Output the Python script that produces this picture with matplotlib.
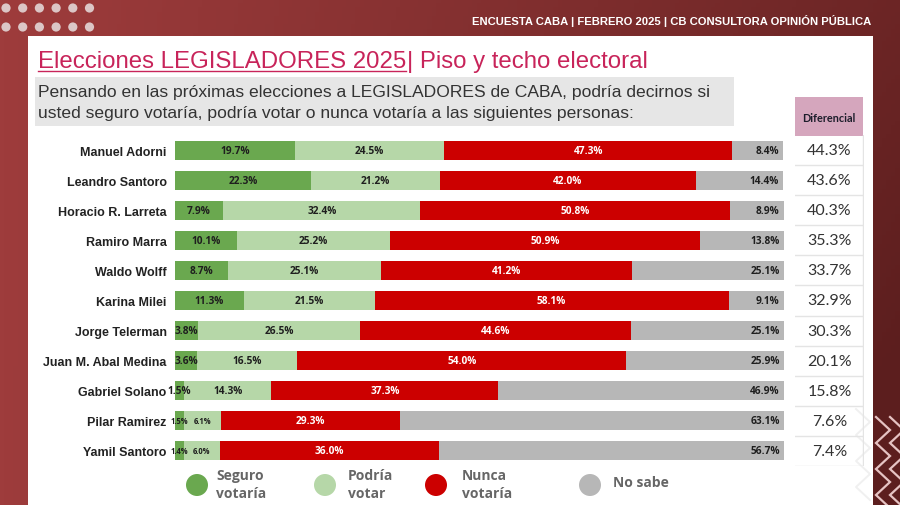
import matplotlib
matplotlib.use("Agg")
import matplotlib.pyplot as plt
import numpy as np
from matplotlib.patches import Rectangle, Circle

# ---------------- data ----------------
names = ["Manuel Adorni", "Leandro Santoro", "Horacio R. Larreta", "Ramiro Marra",
         "Waldo Wolff", "Karina Milei", "Jorge Telerman", "Juan M. Abal Medina",
         "Gabriel Solano", "Pilar Ramirez", "Yamil Santoro"]
seguro = [19.7, 22.3, 7.9, 10.1, 8.7, 11.3, 3.8, 3.6, 1.5, 1.5, 1.4]
podria = [24.5, 21.2, 32.4, 25.2, 25.1, 21.5, 26.5, 16.5, 14.3, 6.1, 6.0]
nunca = [47.3, 42.0, 50.8, 50.9, 41.2, 58.1, 44.6, 54.0, 37.3, 29.3, 36.0]
nosabe = [8.4, 14.4, 8.9, 13.8, 25.1, 9.1, 25.1, 25.9, 46.9, 63.1, 56.7]
diferencial = [44.3, 43.6, 40.3, 35.3, 33.7, 32.9, 30.3, 20.1, 15.8, 7.6, 7.4]
series_labels = ["Seguro\nvotaría", "Podría\nvotar", "Nunca\nvotaría", "No sabe"]
colors = ["#6aa84f", "#b6d7a8", "#cc0000", "#b7b7b7"]

header = "ENCUESTA CABA | FEBRERO 2025 | CB CONSULTORA OPINIÓN PÚBLICA"
title_a = "Elecciones LEGISLADORES 2025"
title_b = "| Piso y techo electoral"
question = ("Pensando en las próximas elecciones a LEGISLADORES de CABA, podría decirnos si\n"
            "usted seguro votaría, podría votar o nunca votaría a las siguientes personas:")

W, H = 900, 506
fig = plt.figure(figsize=(W / 100, H / 100), dpi=100)

# ---------------- background / decorations (pixel coordinates) ----------------
bg = fig.add_axes([0, 0, 1, 1])
bg.set_xlim(0, W)
bg.set_ylim(H, 0)
bg.axis("off")

gx = np.linspace(0, 1, 200)[None, :]
gy = np.linspace(0, 1, 120)[:, None]
t = np.clip(0.75 * gx + 0.35 * gy * gx, 0, 1)
c0 = np.array([158, 60, 60]) / 255
c1 = np.array([92, 30, 30]) / 255
img = c0[None, None, :] * (1 - t[..., None]) + c1[None, None, :] * t[..., None]
bg.imshow(img, extent=[0, W, H, 0], aspect="auto", zorder=0)

# white panel
bg.add_patch(Rectangle((28, 37), 845, 480, facecolor="white", edgecolor="none", zorder=1))

# dots
for row_y in (9, 28):
    for k in range(6):
        bg.add_patch(Circle((6 + 16.7 * k, row_y), 4.6, facecolor="#dcc6c6",
                            edgecolor="none", zorder=2))

# chevrons bottom right
for off in (0, 14):
    xs, ys = [], []
    y0 = 418
    for k in range(8):
        xs.append(876 + off if k % 2 == 0 else 890 + off)
        ys.append(y0 + k * 13)
    bg.plot(xs, ys, color="#e6c3c3", lw=1.6, zorder=2, solid_joinstyle="miter")
xs, ys = [], []
for k in range(8):
    xs.append(856 if k % 2 == 0 else 870)
    ys.append(410 + k * 13)
bg.plot(xs, ys, color="#f0f0f0", lw=1.4, zorder=2)

# header text
bg.text(871, 21, header, color="white", fontsize=8.1, fontweight="bold",
        family="Liberation Sans", ha="right", va="center", zorder=3)

# title with underline
title_color = "#c8245a"
ta = bg.text(38, 68, title_a, color=title_color, fontsize=17.3, family="Liberation Sans",
             ha="left", va="baseline", zorder=3)
fig.canvas.draw()
r = fig.canvas.get_renderer()
bb = ta.get_window_extent(renderer=r)
x_end = bb.x1
bg.plot([38, x_end], [71.5, 71.5], color=title_color, lw=1.0, zorder=3)
bg.text(x_end + 1, 68, title_b, color=title_color, fontsize=17.3, family="Liberation Sans",
        ha="left", va="baseline", zorder=3)

# question box
bg.add_patch(Rectangle((35, 78), 699, 49, facecolor="#e6e6e6", edgecolor="none", zorder=1.5))
bg.text(38, 102.5, question, color="#333333", fontsize=12.6, family="Liberation Sans",
        ha="left", va="center", linespacing=1.5, zorder=3)

# Diferencial header
bg.add_patch(Rectangle((795, 98), 68, 39, facecolor="#d5a6bd", edgecolor="none", zorder=1.5))
bg.text(829, 118, "Diferencial", color="#1d1d2b", fontsize=7.8, fontweight="bold",
        family="Lato", ha="center", va="center", zorder=3)

# ---------------- bar chart ----------------
top_px, bot_px = 136, 467
left_px, right_px = 175, 784
ax = fig.add_axes([left_px / W, 1 - bot_px / H, (right_px - left_px) / W, (bot_px - top_px) / H])
ax.set_zorder(5)
ax.patch.set_alpha(0)
n = len(names)
y = np.arange(n)
ax.set_ylim(n - 0.5, -0.5)
ax.set_xlim(0, 100)
for s in ax.spines.values():
    s.set_visible(False)
ax.set_xticks([])
ax.set_yticks(y)
ax.set_yticklabels(names, fontsize=9, fontweight="bold", family="Liberation Sans", color="#222222")
ax.tick_params(axis="y", length=0, pad=6)

data = [seguro, podria, nunca, nosabe]
lefts = np.zeros(n)
for si, (vals, col) in enumerate(zip(data, colors)):
    vals = np.array(vals)
    ax.barh(y, vals, left=lefts, height=0.63, color=col, edgecolor="none")
    for i in range(n):
        v = vals[i]
        small = (names[i] in ("Pilar Ramirez", "Yamil Santoro")) and si < 2
        fs = 5.5 if small else 7.3
        tc = "white" if si == 2 else "#1e1e1e"
        if si == 3:
            ax.text(lefts[i] + v - 0.7, i, f"{v:.1f}%", ha="right", va="center",
                    fontsize=fs, fontweight="bold", family="Open Sans", color=tc)
        else:
            ax.text(lefts[i] + v / 2, i, f"{v:.1f}%", ha="center", va="center",
                    fontsize=fs, fontweight="bold", family="Open Sans", color=tc)
    lefts = lefts + vals

# ---------------- diferencial column ----------------
ax2 = fig.add_axes([795 / W, 1 - bot_px / H, 69 / W, (bot_px - top_px) / H])
ax2.set_ylim(n - 0.5, -0.5)
ax2.set_xlim(0, 1)
ax2.axis("off")
for i, v in enumerate(diferencial):
    ax2.text(0.5, i, f"{v:.1f}%", ha="center", va="center", fontsize=11.5,
             family="Lato", color="#333333")
for b in np.arange(-0.5, n, 1.0)[1:]:
    ax2.plot([0, 1], [b, b], color="#e4e4e4", lw=1.0)
ax2.plot([0.99, 0.99], [-0.5, n - 0.5], color="#e4e4e4", lw=1.0)

# ---------------- legend ----------------
leg_x = [197, 325, 436, 590]
txt_x = [216, 348, 462, 613]
for lx, tx, lab, col in zip(leg_x, txt_x, series_labels, colors):
    bg.add_patch(Circle((lx, 486), 11, facecolor=col, edgecolor="none", zorder=3))
    yy = 485 if "\n" in lab else 483
    bg.text(tx, yy, lab, ha="left", va="center", fontsize=10, fontweight="bold",
            family="Open Sans", color="#666666", linespacing=1.3, zorder=3)

fig.savefig("out.png", dpi=100)
